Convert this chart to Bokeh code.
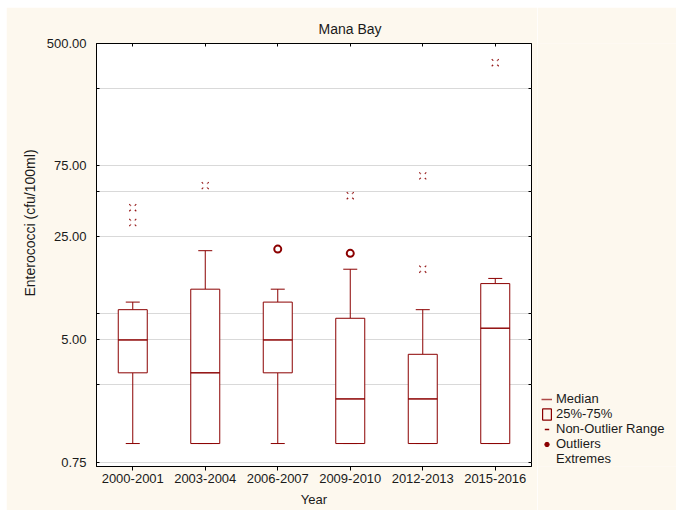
import math
from bokeh.plotting import figure
from bokeh.layouts import row
from bokeh.models import (ColumnDataSource, Range1d, FixedTicker, NumeralTickFormatter,
                          LogAxis, CategoricalAxis, Whisker, TeeHead, Legend, LegendItem, Title)
from bokeh.embed import file_html
from bokeh.resources import INLINE

# ---- data ----
years = ["2000-2001", "2003-2004", "2006-2007", "2009-2010", "2012-2013", "2015-2016"]
whisker_low = [1, 1, 1, 1, 1, 1]
q1 = [3, 1, 3, 1, 1, 1]
median = [5, 3, 5, 2, 2, 6]
q3 = [8, 11, 9, 7, 4, 12]
whisker_high = [9, 20, 11, 15, 8, 13]

outlier_years = ["2006-2007", "2009-2010"]
outlier_values = [20.5, 19.2]

extreme_years = ["2000-2001", "2000-2001", "2003-2004", "2009-2010", "2012-2013", "2012-2013", "2015-2016"]
extreme_values = [39, 31, 55, 47, 64, 15, 371]

label_ticks = [0.75, 5, 25, 75, 500]
unlabeled_ticks = [2.5, 7.5, 50, 250]

legend_labels = ["Median", "25%-75%", "Non-Outlier Range", "Outliers", "Extremes"]

# ---- style ----
FONT = "Liberation Sans"
RED = "#8B0000"
CREAM = "#FDF8EE"
GRID = "#D9D9D9"
TXT = "#1a1a1a"

box_src = ColumnDataSource(dict(year=years, low=whisker_low, q1=q1, med=median,
                                q3=q3, high=whisker_high))
out_src = ColumnDataSource(dict(year=outlier_years, value=outlier_values))
ext_src = ColumnDataSource(dict(year=extreme_years, value=extreme_values))

p = figure(width=531, height=503, x_range=years, y_axis_type="log",
           y_range=Range1d(0.70, 500), output_backend="svg", toolbar_location=None,
           min_border_left=90, min_border_right=6, min_border_top=36, min_border_bottom=44,
           background_fill_color="white", border_fill_color=CREAM,
           outline_line_color="black", outline_line_width=1)
p.margin = (7, 0, 0, 6)

p.title.text = "Mana Bay"
p.title.text_font = FONT
p.title.text_font_size = "14px"
p.title.text_font_style = "normal"
p.title.text_color = TXT
p.title.align = "left"
p.title.offset = 222
p.title.standoff = 14

# grids
p.xgrid.visible = False
p.ygrid.grid_line_color = GRID
p.ygrid.minor_grid_line_color = GRID

# left axis
ya = p.yaxis[0]
ya.ticker = FixedTicker(ticks=label_ticks, minor_ticks=unlabeled_ticks)
ya.formatter = NumeralTickFormatter(format="0.00")
ya.major_tick_in = 3
ya.major_tick_out = 0
ya.minor_tick_in = 3
ya.minor_tick_out = 0
ya.major_label_standoff = 10
ya.major_label_text_font = FONT
ya.major_label_text_font_size = "13px"
ya.major_label_text_color = TXT
ya.axis_line_color = "black"

# y label as a vertical title (placed like the reference, off-centre)
ylab = Title(text="Enterococci (cfu/100ml)", text_font=FONT, text_font_size="14px",
             text_font_style="normal", text_color=TXT, align="left", offset=170,
             standoff=12)
p.add_layout(ylab, "left")

# bottom axis
xa = p.xaxis[0]
xa.major_tick_in = 0
xa.major_tick_out = 4
xa.major_label_standoff = 3
xa.major_label_text_font = FONT
xa.major_label_text_font_size = "13px"
xa.major_label_text_color = TXT
xa.axis_label = "Year"
xa.axis_label_text_font = FONT
xa.axis_label_text_font_size = "13px"
xa.axis_label_text_font_style = "normal"
xa.axis_label_text_color = TXT
xa.axis_label_standoff = 6
xa.axis_line_color = "black"

# top axis (ticks only)
top_axis = CategoricalAxis(major_label_text_font_size="1px", major_label_text_color=None,
                           major_label_standoff=0, major_tick_in=3, major_tick_out=0,
                           axis_line_color=None)
p.add_layout(top_axis, "above")

# right axis (ticks only)
right_axis = LogAxis(ticker=FixedTicker(ticks=sorted(label_ticks + unlabeled_ticks)),
                     major_label_text_font_size="1px", major_label_text_color=None,
                     major_label_standoff=0, major_tick_in=3, major_tick_out=0,
                     minor_tick_line_color=None, axis_line_color=None)
p.add_layout(right_axis, "right")

# whiskers
up_w = Whisker(source=box_src, base="year", upper="high", lower="q3",
               line_color=RED, line_width=1,
               upper_head=TeeHead(size=14, line_color=RED, line_width=1), lower_head=None)
lo_w = Whisker(source=box_src, base="year", upper="q1", lower="low",
               line_color=RED, line_width=1,
               lower_head=TeeHead(size=14, line_color=RED, line_width=1), upper_head=None)
p.add_layout(up_w)
p.add_layout(lo_w)

# boxes & medians
p.vbar(x="year", width=0.4, top="q3", bottom="q1", source=box_src,
       fill_color="white", line_color=RED, line_width=1)
p.vbar(x="year", width=0.4, top="med", bottom="med", source=box_src,
       fill_color=None, line_color=RED, line_width=1)

# outliers & extremes
p.scatter(x="year", y="value", source=out_src, marker="circle", size=7,
          line_color=RED, line_width=2, fill_color="white")
p.scatter(x="year", y="value", source=ext_src, marker="x", size=10,
          line_color=RED, line_width=1.1, line_alpha=0.9)
p.scatter(x="year", y="value", source=ext_src, marker="square", size=4.5,
          line_color=None, fill_color="white")

# ---- legend panel (separate figure to the right) ----
lf = figure(width=139, height=503, x_range=Range1d(0, 1), y_range=Range1d(0, 1),
            output_backend="svg", toolbar_location=None,
            x_axis_location=None, y_axis_location=None,
            min_border=0, min_border_left=0, min_border_right=0,
            min_border_top=0, min_border_bottom=0,
            background_fill_color=CREAM, border_fill_color=CREAM, outline_line_color=None)
lf.margin = (7, 0, 0, 0)
lf.xgrid.visible = False
lf.ygrid.visible = False

nan = float("nan")
med_leg = lf.line(x=[nan, nan], y=[nan, nan], line_color=RED, line_width=1.5, line_alpha=0.7)
box_leg = lf.vbar(x=[nan], top=[nan], bottom=[nan], width=0.1, line_color=RED,
                  line_width=1.2, fill_color=None)
rng_leg = lf.scatter(x=[nan], y=[nan], marker="dash", angle=math.pi / 2,
                     line_color=RED, line_width=1.5)
out_leg = lf.scatter(x=[nan], y=[nan], marker="circle", line_color=RED, fill_color=RED)
ext_leg = lf.scatter(x=[nan], y=[nan], marker="x", line_alpha=0, fill_alpha=0)

legend_renderers = [med_leg, box_leg, rng_leg, out_leg, ext_leg]
legend = Legend(items=[LegendItem(label=lab, renderers=[r])
                       for lab, r in zip(legend_labels, legend_renderers)],
                location=(4, 0), orientation="vertical",
                background_fill_alpha=0, border_line_color=None,
                label_text_font=FONT, label_text_font_size="13px", label_text_color=TXT,
                glyph_width=11, glyph_height=14, label_height=14, label_standoff=4,
                spacing=0, padding=0, margin=0)
lf.add_layout(legend)

layout = row(p, lf)
open("out.html", "w").write(file_html(layout, INLINE))
